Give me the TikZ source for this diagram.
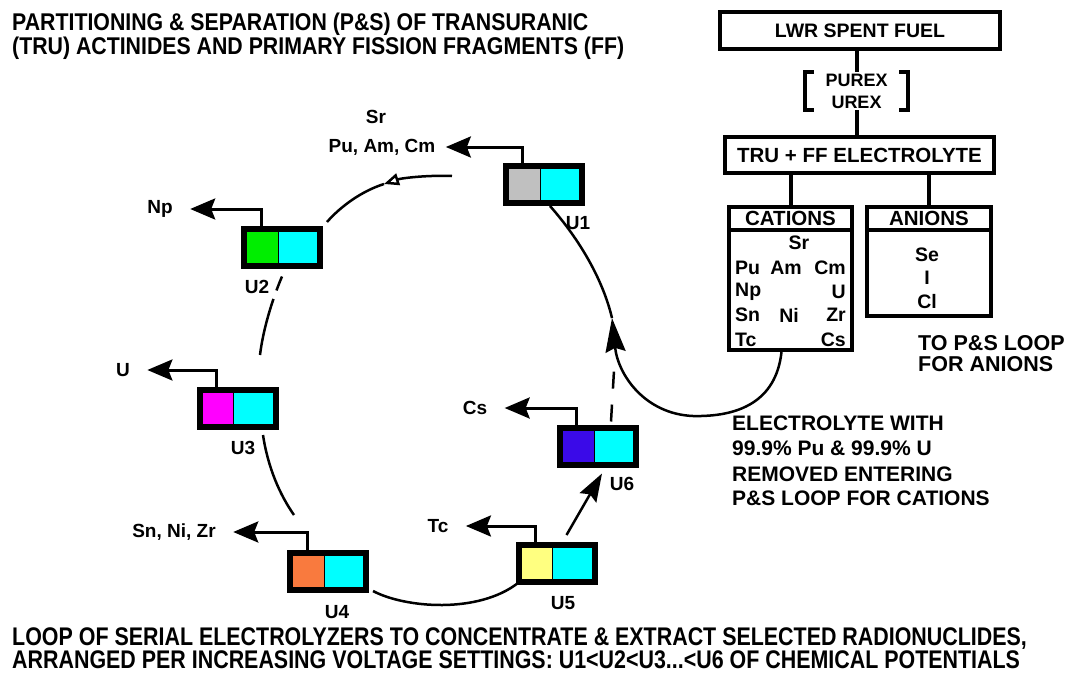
\documentclass[tikz,border=0pt]{standalone}
\usepackage{fontspec}
\setmainfont{Liberation Sans}
\newfontfamily\narrowsans[FakeStretch=0.88]{Liberation Sans}
\newfontfamily\narrowersans[FakeStretch=0.84]{Liberation Sans}
\usepackage{xcolor}
\usepackage{tikz}
\usetikzlibrary{positioning, arrows.meta, calc}

\definecolor{cellcyan}{HTML}{00FFFF}
\definecolor{cellgray}{HTML}{C0C0C0}
\definecolor{cellgreen}{HTML}{00EE00}
\definecolor{cellmagenta}{HTML}{FF00FF}
\definecolor{cellorange}{HTML}{F97A3E}
\definecolor{cellyellow}{HTML}{FFFF80}
\definecolor{cellblue}{HTML}{3A0AE8}

\tikzset{
  ucell/.style={draw, line width=6pt, fill=cellcyan, minimum width=76pt, minimum height=37pt, inner sep=0pt,
    path picture={
      \fill[#1] (path picture bounding box.south west) rectangle ($(path picture bounding box.north west)!0.45!(path picture bounding box.north east)$);
      \draw[line width=1pt] ($(path picture bounding box.south west)!0.45!(path picture bounding box.south east)$) -- ($(path picture bounding box.north west)!0.45!(path picture bounding box.north east)$);
    }},
  lbl/.style={font=\bfseries\fontsize{19}{22}\selectfont},
  entry/.style={font=\bfseries\fontsize{19.5}{22}\selectfont, inner sep=1pt},
  box/.style={draw, line width=4pt, inner sep=0pt, font=\bfseries\fontsize{20.5}{24}\selectfont},
  heading/.style={font=\narrowsans\bfseries\fontsize{24.2}{28}\selectfont, inner sep=0pt, anchor=base west},
  footer/.style={font=\narrowersans\bfseries\fontsize{25.5}{28}\selectfont, inner sep=0pt, anchor=base west},
  note/.style={font=\bfseries\fontsize{21}{24}\selectfont, inner sep=0pt, anchor=base west},
  link/.style={line width=4pt},
  outarrow/.style={line width=3pt, shorten >=14pt, -{Stealth[length=25pt, width=21pt, inset=4pt]}},
  loop/.style={line width=2.5pt},
}

\begin{document}
\begin{tikzpicture}[x=1pt, y=-1pt]
  \useasboundingbox (0,0) rectangle (1068,677);

  % Title
  \node[heading] (title1) at (12,31) {PARTITIONING \& SEPARATION (P\&S) OF TRANSURANIC};
  \node[heading] (title2) at (12,55) {(TRU) ACTINIDES AND PRIMARY FISSION FRAGMENTS (FF)};

  % Fuel path
  \node[box, minimum width=280pt, minimum height=37pt, font=\bfseries\fontsize{19.5}{22}\selectfont] (lwr) at (860,31) {LWR SPENT FUEL};
  \node[font=\bfseries\fontsize{18}{22}\selectfont, align=center, minimum width=103pt, minimum height=38pt, inner sep=0pt] (purex) at (856.5,91) {PUREX\\UREX};
  \draw[link] ([xshift=9pt]purex.north west) -- (purex.north west) -- (purex.south west) -- ([xshift=9pt]purex.south west);
  \draw[link] ([xshift=-9pt]purex.north east) -- (purex.north east) -- (purex.south east) -- ([xshift=-9pt]purex.south east);
  \node[box, minimum width=269pt, minimum height=36pt] (tru) at (859.5,155) {TRU + FF ELECTROLYTE};
  \draw[link] (purex.north) -- (purex.north |- lwr.south);
  \draw[link] (purex.south) -- (purex.south |- tru.north);

  % Cations and anions
  \node[box, minimum width=123pt, minimum height=23pt] (cathead) at (790.5,218.5) {CATIONS};
  \node[box, minimum width=123pt, minimum height=120pt] (catbody) at (790.5,290) {};
  \node[box, minimum width=124pt, minimum height=23pt] (anhead) at (929,218.5) {ANIONS};
  \node[box, minimum width=124pt, minimum height=86pt] (anbody) at (929,273) {};
  \draw[link] (cathead.north) -- (cathead.north |- tru.south);
  \draw[link] (anhead.north) -- (anhead.north |- tru.south);

  \node[entry] (csr) at (799,243) {Sr};
  \node[entry, anchor=west] (cpu) at (734,268) {Pu};
  \node[entry] (cam) at (786,268) {Am};
  \node[entry, anchor=east] (ccm) at (847,268) {Cm};
  \node[entry, anchor=west] (cnp) at (734,292) {Np};
  \node[entry, anchor=east] (cu) at (847,292) {U};
  \node[entry, anchor=west] (csn) at (734,315) {Sn};
  \node[entry] (cni) at (789,315) {Ni};
  \node[entry, anchor=east] (czr) at (847,315) {Zr};
  \node[entry, anchor=west] (ctc) at (734,340) {Tc};
  \node[entry, anchor=east] (ccs) at (847,340) {Cs};

  \node[entry] (ase) at (927,255) {Se};
  \node[entry] (ai) at (927,278) {I};
  \node[entry] (acl) at (927,302) {Cl};

  \node[note, font=\bfseries\fontsize{21.5}{24}\selectfont] (anloop1) at (918,350.5) {TO P\&S LOOP};
  \node[note, font=\bfseries\fontsize{21.5}{24}\selectfont] (anloop2) at (918,371.5) {FOR ANIONS};

  % Electrolyzers
  \node[ucell=cellgray] (u1) at (544,184.5) {};
  \node[ucell=cellgreen] (u2) at (282,247) {};
  \node[ucell=cellmagenta] (u3) at (237.5,408.5) {};
  \node[ucell=cellorange] (u4) at (328,571) {};
  \node[ucell=cellyellow] (u5) at (556.5,563.5) {};
  \node[ucell=cellblue] (u6) at (598,446) {};

  \node[lbl] (u1lab) at (578,223) {U1};
  \node[lbl] (u2lab) at (257,287) {U2};
  \node[lbl] (u3lab) at (243,448) {U3};
  \node[lbl] (u4lab) at (337,612) {U4};
  \node[lbl] (u5lab) at (563,603) {U5};
  \node[lbl] (u6lab) at (622,484) {U6};

  % Extracted products
  \node[lbl] (sr) at (376,117) {Sr};
  \node[lbl] (pacm) at (382,147) {Pu, Am, Cm};
  \node[lbl] (np) at (160,209) {Np};
  \node[lbl] (uex) at (123,370) {U};
  \node[lbl] (snnizr) at (174,532) {Sn, Ni, Zr};
  \node[lbl] (tc) at (438,526) {Tc};
  \node[lbl] (cs) at (475,408) {Cs};

  \draw[outarrow, shorten >=7pt] ([xshift=-22pt]u1.north) |- (pacm.east);
  \draw[outarrow] ([xshift=-21pt]u2.north) |- (np.east);
  \draw[outarrow] ([xshift=-21pt]u3.north) |- (uex.east);
  \draw[outarrow] ([xshift=-21pt]u4.north) |- (snnizr.east);
  \draw[outarrow] ([xshift=-21pt]u5.north) |- (tc.east);
  \draw[outarrow] ([xshift=-22pt]u6.north) |- (cs.east);

  % Loop of electrolyzers
  \coordinate (l1) at (452,176);
  \coordinate (m12) at (384,184);
  \coordinate (l2) at (327,222);
  \coordinate (l3) at (260,355);
  \coordinate (l4) at (263,435);
  \coordinate (l5) at (294,515);
  \coordinate (l6) at (373,591);
  \coordinate (l7) at (518,583);
  \coordinate (tip) at (612,318);
  \draw[loop, -{Triangle[open, length=15pt, width=12pt]}] (l1) .. controls (428,175) and (402,178) .. (m12);
  \draw[loop] (m12) .. controls (362,191) and (341,206) .. (l2);
  \draw[loop, dash pattern=on 15pt off 9pt on 70pt] ([yshift=-8pt]u2.south) .. controls (272,300) and (263,330) .. (l3);
  \draw[loop] (l4) .. controls (268,468) and (280,495) .. (l5);
  \draw[loop] (l6) .. controls (405,608) and (478,614) .. (l7);
  \draw[loop, -{Stealth[length=28pt, width=19pt, inset=4pt]}] ([xshift=10pt, yshift=7pt]u5.north) -- ([xshift=4pt, yshift=-6pt]u6.south);
  \draw[loop, dash pattern=on 17pt off 16pt] ([xshift=13pt, yshift=3pt]u6.north) -- ++(3,-51);

  % Return from cations into U1
  \draw[loop, -{Stealth[length=34pt, width=20pt, inset=4pt]}] ([xshift=-9pt]catbody.south) .. controls (776,402) and (738,417) .. (693,416) .. controls (645,414) and (618,375) .. (tip);
  \draw[loop] (tip) .. controls (603,280) and (580,240) .. ([xshift=6pt]u1.south);

  \node[note] (el1) at (732,430.5) {ELECTROLYTE WITH};
  \node[note] (el2) at (732,455.5) {99.9\% Pu \& 99.9\% U};
  \node[note] (el3) at (732,481) {REMOVED ENTERING};
  \node[note] (el4) at (732,505.5) {P\&S LOOP FOR CATIONS};

  % Footer
  \node[footer] (foot1) at (12,645) {LOOP OF SERIAL ELECTROLYZERS TO CONCENTRATE \& EXTRACT SELECTED RADIONUCLIDES,};
  \node[footer] (foot2) at (12,668) {ARRANGED PER INCREASING VOLTAGE SETTINGS: U1<U2<U3...<U6 OF CHEMICAL POTENTIALS};
\end{tikzpicture}
\end{document}
